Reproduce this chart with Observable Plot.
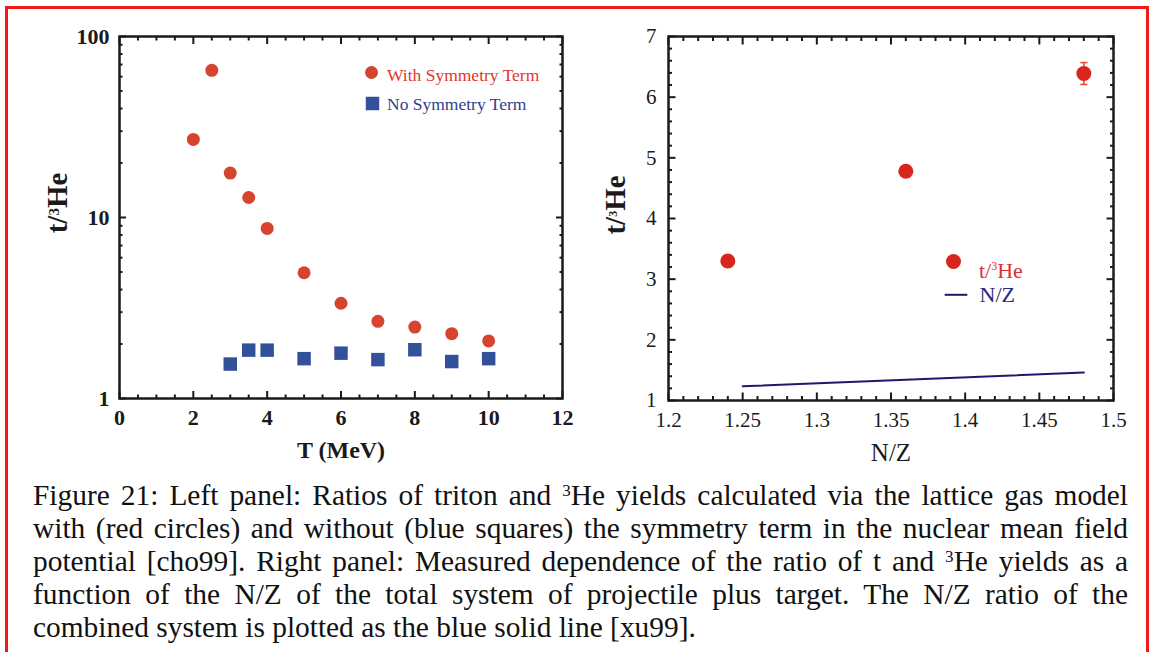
<!DOCTYPE html>
<html><head><meta charset="utf-8">
<script src="https://cdn.jsdelivr.net/npm/d3@7"></script>
<script src="https://cdn.jsdelivr.net/npm/@observablehq/plot@0.6"></script>
<style>
html,body{margin:0;padding:0;background:#fff;width:1151px;height:652px;overflow:hidden;}
#left{position:absolute;left:0;top:0;}
#right{position:absolute;left:600px;top:0;}
#border{position:absolute;left:5px;top:6px;width:1144px;height:720px;border:3.5px solid #f01818;border-bottom:none;box-sizing:border-box;pointer-events:none;}
#caption{position:absolute;left:33px;top:479px;width:1095px;font-family:'Liberation Serif','Times New Roman',serif;font-size:29.4px;line-height:33px;color:#111;}
.ln{text-align:justify;text-align-last:justify;white-space:nowrap;}
.ln.last{text-align-last:left;}
sup{font-size:0.58em;line-height:0;vertical-align:0.55em;}
</style></head>
<body>
<div id="left"></div>
<div id="right"></div>
<div id="caption">
<div class="ln">Figure 21: Left panel: Ratios of triton and <sup>3</sup>He yields calculated via the lattice gas model</div>
<div class="ln">with (red circles) and without (blue squares) the symmetry term in the nuclear mean field</div>
<div class="ln">potential [cho99]. Right panel: Measured dependence of the ratio of t and <sup>3</sup>He yields as a</div>
<div class="ln">function of the N/Z of the total system of projectile plus target. The N/Z ratio of the</div>
<div class="ln last">combined system is plotted as the blue solid line [xu99].</div>
</div>
<div id="border"></div>
<script>
// ---- Left panel data (lattice gas model) ----
const tWith = [2, 2.5, 3, 3.5, 4, 5, 6, 7, 8, 9, 10];
const ratioWith = [27, 65, 17.6, 12.9, 8.7, 4.95, 3.36, 2.67, 2.48, 2.28, 2.08];
const tNo = [3, 3.5, 4, 5, 6, 7, 8, 9, 10];
const ratioNo = [1.55, 1.85, 1.85, 1.66, 1.78, 1.64, 1.86, 1.60, 1.66];
const leftXTicks = [0, 2, 4, 6, 8, 10, 12];
const leftXMinor = [0.5, 1, 1.5, 2.5, 3, 3.5, 4.5, 5, 5.5, 6.5, 7, 7.5, 8.5, 9, 9.5, 10.5, 11, 11.5];
const leftYTicks = [1, 10, 100];
const leftYMinor = [2, 3, 4, 5, 6, 7, 8, 9, 20, 30, 40, 50, 60, 70, 80, 90];
const leftLegend = ["With Symmetry Term", "No Symmetry Term"];

// ---- Right panel data (measured) ----
const nzPts = [1.24, 1.36, 1.48];
const ratioPts = [3.3, 4.78, 6.39];
const errLo = [3.3, 4.78, 6.21];
const errHi = [3.3, 4.78, 6.57];
const nzLineX = [1.25, 1.48];
const nzLineY = [1.235, 1.46];
const rightXTicks = [1.2, 1.25, 1.3, 1.35, 1.4, 1.45, 1.5];
const rightXMinor = [1.21,1.22,1.23,1.24,1.26,1.27,1.28,1.29,1.31,1.32,1.33,1.34,1.36,1.37,1.38,1.39,1.41,1.42,1.43,1.44,1.46,1.47,1.48,1.49];
const rightYTicks = [1, 2, 3, 4, 5, 6, 7];
const rightYMinor = [1.2,1.4,1.6,1.8,2.2,2.4,2.6,2.8,3.2,3.4,3.6,3.8,4.2,4.4,4.6,4.8,5.2,5.4,5.6,5.8,6.2,6.4,6.6,6.8];
const rightLegend = ["t/3He", "N/Z"];
const yTitle = "t/3He";

const serif = "'Liberation Serif','Times New Roman',serif";
const ink = "#1a1a1a";
const tickW = 2;

function boxTicks(xMaj, xMin, yMaj, yMin, majLen, minLen) {
  const o = {fill: "none", label: null, strokeWidth: tickW, stroke: ink};
  return [
    Plot.axisX(xMaj, {...o, anchor: "bottom", tickSize: -majLen}),
    Plot.axisX(xMin, {...o, anchor: "bottom", tickSize: -minLen}),
    Plot.axisX(xMaj, {...o, anchor: "top", tickSize: -majLen}),
    Plot.axisX(xMin, {...o, anchor: "top", tickSize: -minLen}),
    Plot.axisY(yMaj, {...o, anchor: "left", tickSize: -majLen}),
    Plot.axisY(yMin, {...o, anchor: "left", tickSize: -minLen}),
    Plot.axisY(yMaj, {...o, anchor: "right", tickSize: -majLen}),
    Plot.axisY(yMin, {...o, anchor: "right", tickSize: -minLen})
  ];
}

// turn the "3" after "t/" into a superscript, keeping the text element Plot made
function superscript(svg, str, scale) {
  d3.select(svg).selectAll("text").filter(function() { return this.textContent === str; }).each(function() {
    const el = d3.select(this);
    const fs = parseFloat(el.attr("font-size")) || 20;
    const shift = fs * 0.38;
    el.text(null);
    el.append("tspan").text("t/");
    el.append("tspan").attr("font-size", fs * scale).attr("dy", -shift).text("3");
    el.append("tspan").attr("dy", shift).text("He");
  });
}

const withData = tWith.map((t, i) => ({t, r: ratioWith[i]}));
const noData = tNo.map((t, i) => ({t, r: ratioNo[i]}));
const hline = {draw(ctx, size) { const w = Math.sqrt(size) / 2; ctx.moveTo(-w, 0); ctx.lineTo(w, 0); }};

const leftPlot = Plot.plot({
  width: 600, height: 470,
  marginLeft: 119, marginRight: 38, marginTop: 36, marginBottom: 72,
  style: {fontFamily: serif, color: ink, background: "transparent", overflow: "visible"},
  x: {domain: [0, 12]},
  y: {type: "log", domain: [1, 100]},
  marks: [
    ...boxTicks(leftXTicks, leftXMinor, leftYTicks, leftYMinor, 7, 3.5),
    Plot.axisX(leftXTicks, {anchor: "bottom", tickSize: 0, tickPadding: 11, fontSize: 22, fontWeight: "bold", label: null, tickFormat: d => String(d), fill: ink}),
    Plot.axisY(leftYTicks, {anchor: "left", tickSize: 0, tickPadding: 10, fontSize: 22, fontWeight: "bold", label: null, tickFormat: d => String(d), fill: ink}),
    Plot.frame({stroke: ink, strokeWidth: 2.5}),
    Plot.dot(withData, {x: "t", y: "r", r: 6.5, fill: "#d6432f"}),
    Plot.dot(noData, {x: "t", y: "r", r: 7.6, symbol: "square", fill: "#33509a"}),
    // legend
    Plot.dot([0], {frameAnchor: "top-left", dx: 252, dy: 36, r: 6.5, fill: "#d6432f"}),
    Plot.dot([0], {frameAnchor: "top-left", dx: 253, dy: 67, r: 7.6, symbol: "square", fill: "#33509a"}),
    Plot.text([leftLegend[0]], {text: d => d, frameAnchor: "top-left", lineAnchor: "middle", dx: 267.5, dy: 38.4, textAnchor: "start", fontSize: 17.5, fill: "#e2352b"}),
    Plot.text([leftLegend[1]], {text: d => d, frameAnchor: "top-left", lineAnchor: "middle", dx: 267.5, dy: 67.4, textAnchor: "start", fontSize: 17.5, fill: "#2f3f8f"}),
    // titles
    Plot.text(["T (MeV)"], {text: d => d, frameAnchor: "bottom", lineAnchor: "middle", textAnchor: "middle", dy: 51.5, fontSize: 24, fontWeight: "bold", fill: ink}),
    Plot.text([yTitle], {text: d => d, frameAnchor: "left", lineAnchor: "middle", textAnchor: "middle", dx: -62, dy: -14.5, rotate: -90, fontSize: 29, fontWeight: "bold", fill: ink})
  ]
});
superscript(leftPlot, yTitle, 0.75);
document.getElementById("left").appendChild(leftPlot);

const ptData = nzPts.map((x, i) => ({x, y: ratioPts[i]}));
const errData = nzPts.map((x, i) => ({x, lo: errLo[i], hi: errHi[i]})).filter(d => d.hi > d.lo);
const capEnds = errData.flatMap(d => [{x: d.x, y: d.lo}, {x: d.x, y: d.hi}]);
const lineData = nzLineX.map((x, i) => ({x, y: nzLineY[i]}));

const rightPlot = Plot.plot({
  width: 551, height: 470,
  marginLeft: 68, marginRight: 38, marginTop: 36, marginBottom: 70,
  style: {fontFamily: serif, color: ink, background: "transparent", overflow: "visible"},
  x: {domain: [1.2, 1.5]},
  y: {domain: [1, 7]},
  marks: [
    ...boxTicks(rightXTicks, rightXMinor, rightYTicks, rightYMinor, 7.5, 4),
    Plot.axisX(rightXTicks, {anchor: "bottom", tickSize: 0, tickPadding: 12, fontSize: 21, label: null, tickFormat: d => String(d), fill: ink}),
    Plot.axisY(rightYTicks, {anchor: "left", tickSize: 0, tickPadding: 12, fontSize: 21, label: null, tickFormat: d => String(d), fill: ink}),
    Plot.frame({stroke: ink, strokeWidth: 2.5}),
    Plot.line(lineData, {x: "x", y: "y", stroke: "#1c1a6e", strokeWidth: 2}),
    Plot.ruleX(errData, {x: "x", y1: "lo", y2: "hi", stroke: "#e8452a", strokeWidth: 1.5}),
    Plot.dot(capEnds, {x: "x", y: "y", symbol: hline, r: 4, fill: "none", stroke: "#e8452a", strokeWidth: 1.5}),
    Plot.dot(ptData, {x: "x", y: "y", r: 7.5, fill: "#d8261e"}),
    // legend
    Plot.dot([0], {frameAnchor: "top-left", dx: 285, dy: 225, r: 7.5, fill: "#d8261e"}),
    Plot.text([rightLegend[0]], {text: d => d, frameAnchor: "top-left", lineAnchor: "middle", dx: 310.5, dy: 234, textAnchor: "start", fontSize: 22, fill: "#e0302c"}),
    Plot.dot([0], {frameAnchor: "top-left", dx: 287.5, dy: 258.3, symbol: hline, r: 12.75, fill: "none", stroke: "#1c1a6e", strokeWidth: 2}),
    Plot.text([rightLegend[1]], {text: d => d, frameAnchor: "top-left", lineAnchor: "middle", dx: 311, dy: 258, textAnchor: "start", fontSize: 22, fill: "#2a2a7a"}),
    // titles
    Plot.text(["N/Z"], {text: d => d, frameAnchor: "bottom", lineAnchor: "middle", textAnchor: "middle", dy: 52, fontSize: 25, fill: ink}),
    Plot.text([yTitle], {text: d => d, frameAnchor: "left", lineAnchor: "middle", textAnchor: "middle", dx: -53, dy: -13.5, rotate: -90, fontSize: 29, fontWeight: "bold", fill: ink})
  ]
});
superscript(rightPlot, yTitle, 0.75);
superscript(rightPlot, rightLegend[0], 0.6);
document.getElementById("right").appendChild(rightPlot);
</script>
</body></html>
